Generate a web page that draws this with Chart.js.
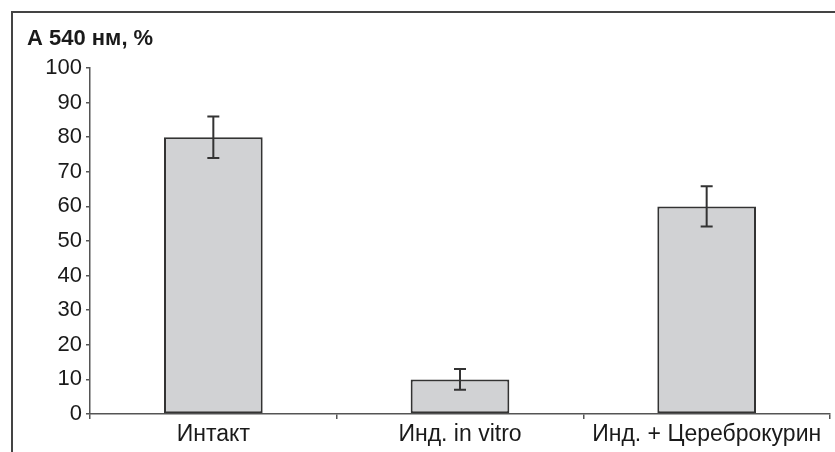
<!DOCTYPE html>
<html><head><meta charset="utf-8">
<script src="https://cdn.jsdelivr.net/npm/chart.js@4"></script>
<style>html,body{margin:0;padding:0;background:#fff}#wrap{width:835px;height:452px}</style>
</head><body><div id="wrap"><canvas id="c" width="835" height="452"></canvas></div>
<script>
const categories = ['Интакт', 'Инд. in vitro', 'Инд. + Цереброкурин'];
const values = [80, 10, 60];
const errors = [6, 3, 5.8];
const yTicks = [0, 10, 20, 30, 40, 50, 60, 70, 80, 90, 100];
const titleText = 'А 540 нм, %';

const FONT = '"Liberation Sans", Arial, sans-serif';

const framePlugin = {
  id: 'frame',
  beforeDraw(chart) {
    const ctx = chart.ctx;
    ctx.save();
    ctx.strokeStyle = '#444';
    ctx.lineWidth = 2;
    ctx.beginPath();
    ctx.moveTo(12, 452);
    ctx.lineTo(12, 12);
    ctx.lineTo(835, 12);
    ctx.stroke();
    ctx.fillStyle = '#1a1a1a';
    ctx.font = 'bold 22px ' + FONT;
    ctx.textBaseline = 'alphabetic';
    ctx.textAlign = 'left';
    ctx.fillText(titleText, 27, 45);
    ctx.restore();
  }
};

const errorPlugin = {
  id: 'errbars',
  afterDatasetsDraw(chart) {
    const ctx = chart.ctx;
    const x = chart.scales.x, y = chart.scales.y;
    ctx.save();
    ctx.strokeStyle = '#333';
    ctx.lineWidth = 2;
    values.forEach((v, i) => {
      const px = x.getPixelForValue(i);
      const top = y.getPixelForValue(v + errors[i]);
      const bot = y.getPixelForValue(v - errors[i]);
      ctx.beginPath();
      ctx.moveTo(px, top); ctx.lineTo(px, bot);
      ctx.moveTo(px - 6, top); ctx.lineTo(px + 6, top);
      ctx.moveTo(px - 6, bot); ctx.lineTo(px + 6, bot);
      ctx.stroke();
    });
    ctx.restore();
  }
};

new Chart(document.getElementById('c'), {
  type: 'bar',
  data: {
    labels: categories,
    datasets: [{
      data: values,
      backgroundColor: '#d1d2d4',
      borderColor: '#333',
      borderWidth: 2,
      borderSkipped: false,
      barPercentage: 0.4,
      categoryPercentage: 1.0
    }]
  },
  options: {
    responsive: false,
    animation: false,
    devicePixelRatio: 1,
    layout: { padding: { top: 68, right: 5, left: 0, bottom: 0 } },
    plugins: { legend: { display: false }, tooltip: { enabled: false }, title: { display: false } },
    scales: {
      x: {
        afterFit(s) { s.height = 38; },
        border: { display: true, color: '#555', width: 1.5 },
        grid: { display: true, drawOnChartArea: false, offset: true, tickLength: 5, color: '#555', lineWidth: 1.5 },
        ticks: { color: '#1a1a1a', font: { family: FONT, size: 23 }, padding: 2, maxRotation: 0, autoSkip: false }
      },
      y: {
        min: 0, max: 100,
        afterFit(s) { s.width = 90; },
        afterBuildTicks(s) { s.ticks = yTicks.map(v => ({ value: v })); },
        border: { display: true, color: '#555', width: 1.5 },
        grid: { display: true, drawOnChartArea: false, tickLength: 4, color: '#555', lineWidth: 1.5 },
        ticks: { color: '#1a1a1a', font: { family: FONT, size: 22 }, padding: 4 }
      }
    }
  },
  plugins: [framePlugin, errorPlugin]
});
</script></body></html>
